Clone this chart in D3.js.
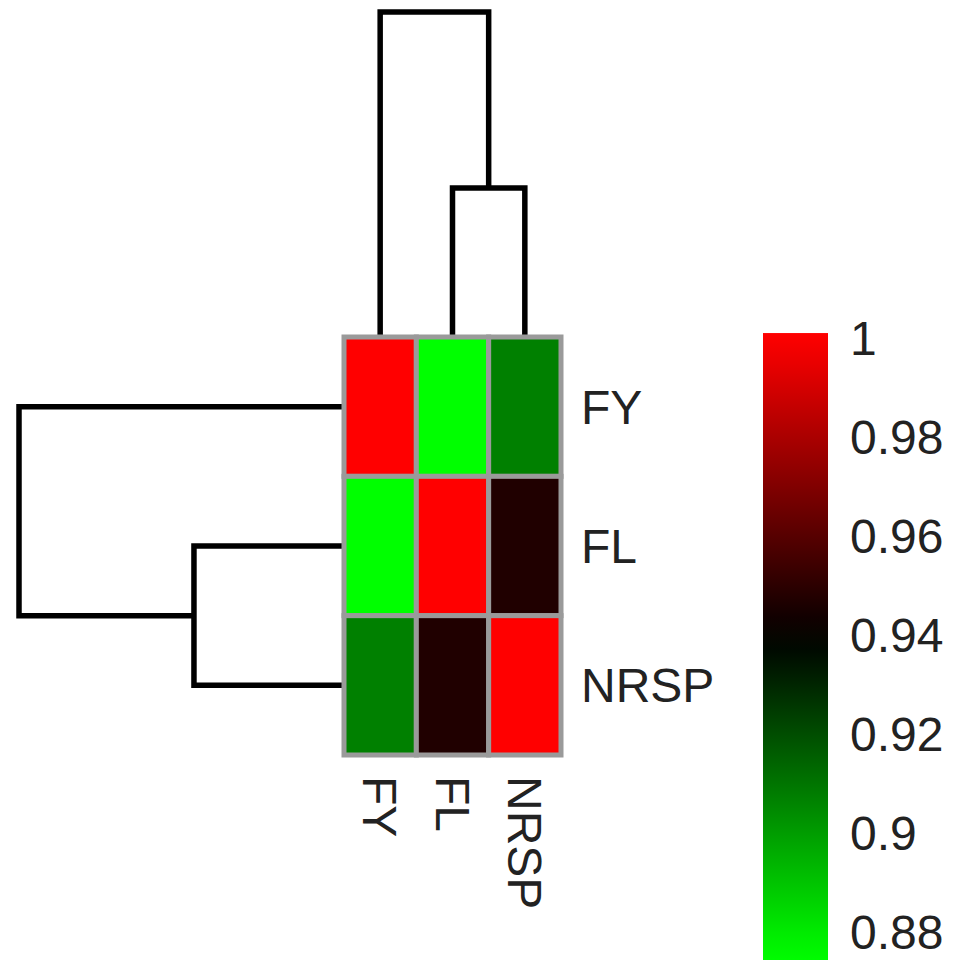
<!DOCTYPE html>
<html>
<head>
<meta charset="utf-8">
<script src="https://cdn.jsdelivr.net/npm/d3@7"></script>
<style>
  body { margin: 0; background: #fff; }
  text { font-family: "Liberation Sans", Arial, sans-serif; fill: #222; }
</style>
</head>
<body>
<svg id="chart" width="964" height="960"></svg>
<script>
// traits, in heatmap order (rows top->bottom, columns left->right)
const traits = ["FY", "FL", "NRSP"];

// correlation matrix, one row per trait
const rowFY   = [1.000, 0.875, 0.907];
const rowFL   = [0.875, 1.000, 0.947];
const rowNRSP = [0.907, 0.947, 1.000];
const matrix = [rowFY, rowFL, rowNRSP];

// hierarchical clustering: FL+NRSP merge first, then FY joins
const mergeHeights = [0.055, 0.120];

// colour key
const keyTicks = [1, 0.98, 0.96, 0.94, 0.92, 0.9, 0.88];
const colorStops = [0.875, 0.9395, 1.0];
const colorRange = ["#00ff00", "#000000", "#ff0000"];

const svg = d3.select("#chart");

const color = d3.scaleLinear().domain(colorStops).range(colorRange);

// heatmap geometry
const x = d3.scaleBand().domain(traits).range([344, 561]);
const y = d3.scaleBand().domain(traits).range([337, 755]);

function AddCells(svg) {
    const cells = [];
    matrix.forEach((row, i) => row.forEach((v, j) => cells.push({r: traits[i], c: traits[j], v})));

    svg.append("g")
        .selectAll("rect")
        .data(cells)
        .join("rect")
        .attr("x", d => x(d.c))
        .attr("y", d => y(d.r))
        .attr("width", x.bandwidth())
        .attr("height", y.bandwidth())
        .attr("fill", d => color(d.v))
        .attr("stroke", "#9a9a9a")
        .attr("stroke-width", 5);
}

function AddDendrograms(svg) {
    const g = svg.append("g")
        .attr("fill", "none")
        .attr("stroke", "#000")
        .attr("stroke-width", 5.5);

    const mid = t => x(t) + x.bandwidth() / 2;
    const midY = t => y(t) + y.bandwidth() / 2;

    // column dendrogram (top)
    const hy = d3.scaleLinear().domain([0, mergeHeights[1]]).range([337, 12]);
    const subX = (mid("FL") + mid("NRSP")) / 2;
    g.append("path").attr("d",
        `M${mid("FL")},${hy(0)}V${hy(mergeHeights[0])}H${mid("NRSP")}V${hy(0)}` +
        `M${mid("FY")},${hy(0)}V${hy(mergeHeights[1])}H${subX}V${hy(mergeHeights[0])}`);

    // row dendrogram (left)
    const hx = d3.scaleLinear().domain([0, mergeHeights[1]]).range([342, 19]);
    const subY = (midY("FL") + midY("NRSP")) / 2;
    g.append("path").attr("d",
        `M${hx(0)},${midY("FL")}H${hx(mergeHeights[0])}V${midY("NRSP")}H${hx(0)}` +
        `M${hx(0)},${midY("FY")}H${hx(mergeHeights[1])}V${subY}H${hx(mergeHeights[0])}`);
}

function AddLabels(svg) {
    // row labels on the right
    svg.append("g")
        .selectAll("text")
        .data(traits)
        .join("text")
        .attr("x", 581)
        .attr("y", d => y(d) + y.bandwidth() / 2 + 17)
        .attr("font-size", 48)
        .text(d => d);

    // column labels, rotated to read top to bottom
    svg.append("g")
        .selectAll("text")
        .data(traits)
        .join("text")
        .attr("transform", d => `translate(${x(d) + x.bandwidth() / 2 - 17},776) rotate(90)`)
        .attr("font-size", 48)
        .text(d => d);
}

function AddColorKey(svg) {
    const ky = d3.scaleLinear().domain([0.88, 1]).range([932, 338]);
    const top = ky(1.001), bottom = 965;

    const grad = svg.append("defs").append("linearGradient")
        .attr("id", "key")
        .attr("x1", 0).attr("y1", 1).attr("x2", 0).attr("y2", 0);
    d3.range(0, 1.0001, 0.05).forEach(t => {
        const v = ky.invert(bottom + t * (top - bottom));
        grad.append("stop")
            .attr("offset", t)
            .attr("stop-color", color(Math.max(colorStops[0], Math.min(1, v))));
    });

    svg.append("rect")
        .attr("x", 763)
        .attr("y", top)
        .attr("width", 65)
        .attr("height", bottom - top)
        .attr("fill", "url(#key)");

    svg.append("g")
        .selectAll("text")
        .data(keyTicks)
        .join("text")
        .attr("x", 850)
        .attr("y", d => ky(d) + 17)
        .attr("font-size", 48)
        .text(d => d);
}

AddDendrograms(svg);
AddCells(svg);
AddLabels(svg);
AddColorKey(svg);
</script>
</body>
</html>
